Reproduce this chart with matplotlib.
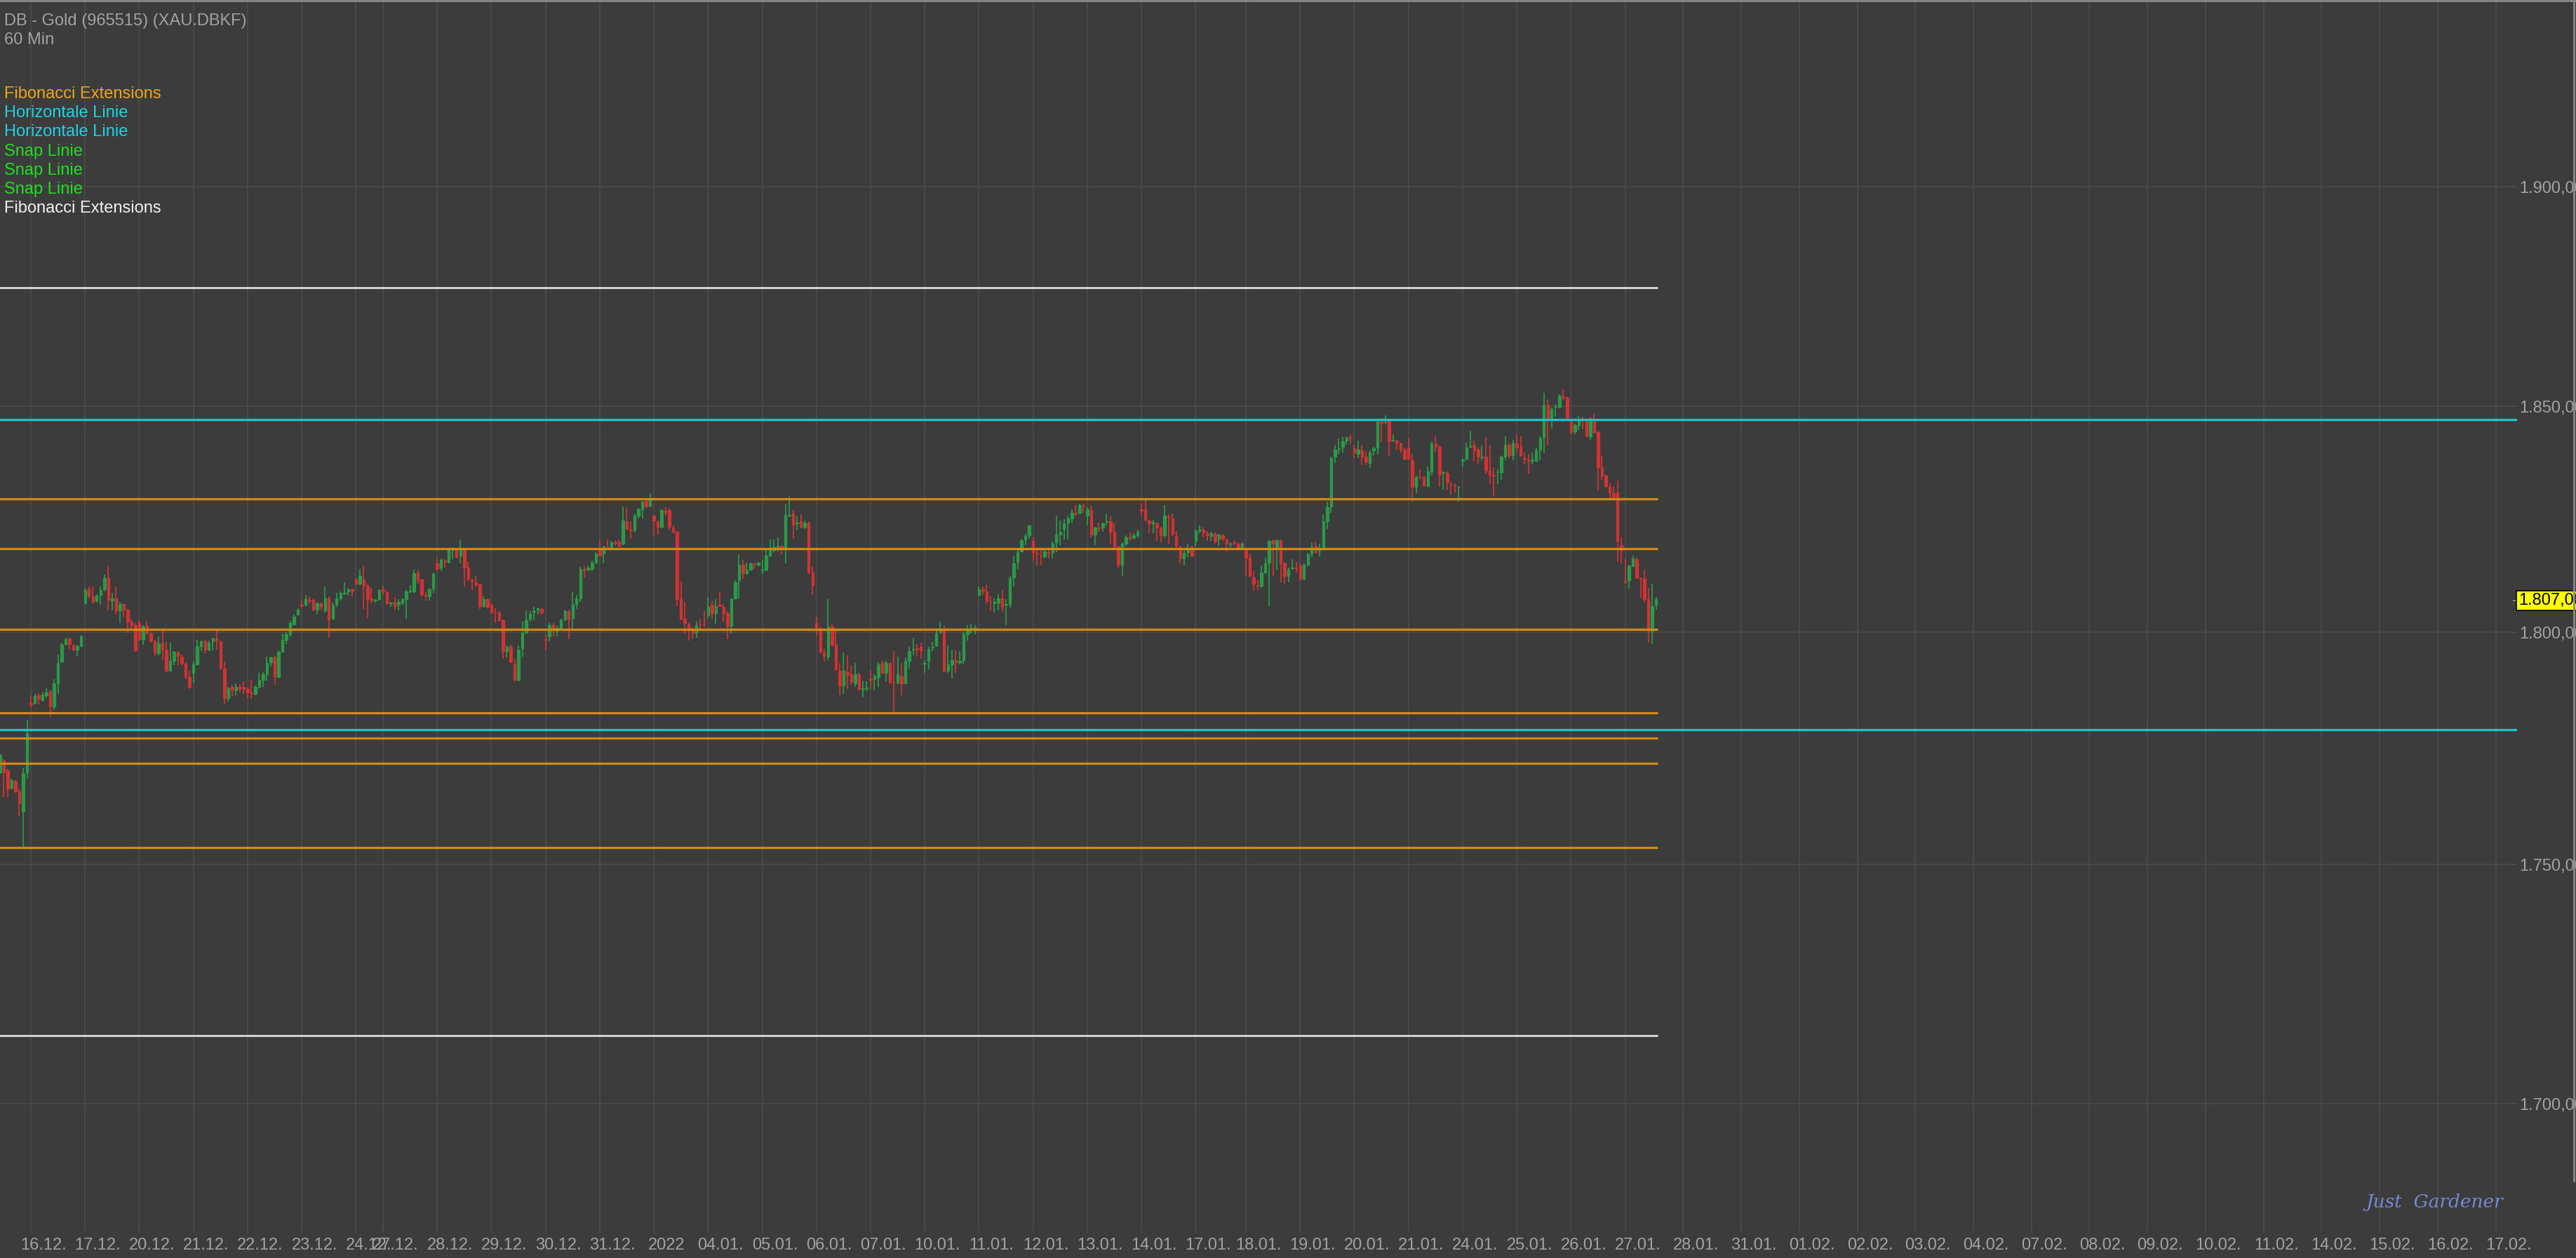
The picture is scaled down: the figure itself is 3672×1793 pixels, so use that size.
import numpy as np
import matplotlib
matplotlib.use('Agg')
import matplotlib.pyplot as plt
from matplotlib.lines import Line2D
from matplotlib.ticker import NullLocator, NullFormatter
from matplotlib.transforms import ScaledTranslation, blended_transform_factory

plt.rcParams['font.family'] = ['Liberation Sans', 'DejaVu Sans']

# hourly candles, first 8 belong to 15.12. (left of the 16.12. line)
first_bar = -8
opens = [
    1769.7, 1772.2, 1770.1, 1766.3, 1767.9, 1765.6, 1761.4, 1769.7,
    1784.6, 1784.6, 1786.4, 1785.3, 1786.4, 1787.2, 1783.9, 1788.9, 1793.6, 1797.5,
    1798.7, 1797.1, 1796.3, 1797.0, 1806.3, 1809.6, 1807.9, 1806.9, 1808.2, 1809.4,
    1811.9, 1807.0, 1807.5, 1804.8, 1806.2, 1805.0, 1802.3, 1801.6, 1802.1, 1798.5,
    1801.4, 1799.8, 1798.0, 1795.4, 1797.6, 1796.3, 1791.7, 1793.8, 1795.6, 1794.7,
    1793.2, 1790.3, 1791.2, 1793.1, 1797.0, 1798.0, 1796.3, 1798.0, 1798.7, 1798.0,
    1792.1, 1785.7, 1788.2, 1787.4, 1788.1, 1788.1, 1787.7, 1787.0, 1786.7, 1788.2,
    1789.6, 1790.9, 1793.5, 1794.5, 1790.3, 1795.7, 1798.4, 1799.6, 1801.8, 1803.9,
    1806.0, 1806.0, 1807.1, 1807.1, 1804.9, 1806.3, 1804.8, 1807.5, 1803.0, 1806.2,
    1807.5, 1808.5, 1808.9, 1809.5, 1811.6, 1810.7, 1811.6, 1810.2, 1807.4, 1806.9,
    1807.2, 1809.5, 1808.8, 1806.3, 1806.7, 1806.0, 1806.5, 1807.2, 1808.9, 1808.9,
    1813.1, 1811.6, 1808.2, 1807.9, 1809.6, 1815.2, 1814.2, 1815.8, 1815.5, 1818.0,
    1818.1, 1816.9, 1818.1, 1814.2, 1811.4, 1811.0, 1810.5, 1805.8, 1807.2, 1806.0,
    1804.4, 1804.4, 1802.7, 1795.9, 1796.8, 1793.1, 1789.6, 1796.6, 1799.9, 1803.0,
    1804.5, 1805.0, 1805.1, 1798.5, 1799.1, 1801.6, 1800.3, 1801.0, 1802.8, 1804.6,
    1803.2, 1806.2, 1807.4, 1813.9, 1813.8, 1813.9, 1815.3, 1818.3, 1817.3, 1818.7,
    1818.7, 1819.7, 1819.9, 1819.4, 1824.4, 1822.5, 1822.5, 1825.6, 1827.0, 1829.0,
    1827.8, 1825.6, 1824.2, 1823.2, 1826.7, 1826.9, 1823.0, 1822.1, 1807.2, 1803.0,
    1801.8, 1800.7, 1799.9, 1801.8, 1801.8, 1803.7, 1806.0, 1804.2, 1806.0, 1805.6,
    1804.2, 1801.4, 1807.5, 1811.4, 1814.8, 1813.0, 1813.8, 1815.2, 1814.8, 1813.6,
    1813.7, 1816.9, 1818.0, 1818.7, 1819.0, 1818.3, 1825.6, 1826.2, 1823.9, 1824.4,
    1823.2, 1824.1, 1813.1, 1802.0, 1800.9, 1795.6, 1794.7, 1801.3, 1797.3, 1791.6,
    1788.4, 1791.4, 1790.9, 1788.9, 1790.9, 1787.7, 1787.9, 1789.9, 1789.8, 1790.3,
    1793.3, 1791.2, 1793.3, 1789.1, 1789.1, 1790.5, 1788.9, 1793.8, 1796.2, 1796.6,
    1796.8, 1793.2, 1793.8, 1796.7, 1797.1, 1800.0, 1800.6, 1791.6, 1793.0, 1794.0,
    1793.5, 1794.0, 1799.6, 1800.9, 1800.9, 1808.2, 1809.5, 1808.9, 1806.7, 1806.4,
    1806.5, 1807.5, 1806.0, 1806.2, 1812.1, 1815.5, 1817.8, 1820.4, 1821.3, 1820.1,
    1817.4, 1816.9, 1816.7, 1817.6, 1817.6, 1819.7, 1821.5, 1822.7, 1824.1, 1825.1,
    1826.3, 1826.3, 1828.0, 1825.6, 1826.9, 1821.5, 1823.0, 1823.0, 1824.2, 1824.4,
    1822.1, 1818.8, 1814.8, 1819.4, 1820.9, 1820.9, 1821.3, 1827.0, 1827.0, 1824.6,
    1824.0, 1823.9, 1822.8, 1821.3, 1825.5, 1825.1, 1821.1, 1818.7, 1816.2, 1817.6,
    1818.7, 1820.1, 1822.4, 1822.5, 1821.8, 1821.1, 1821.6, 1820.6, 1821.3, 1820.4,
    1819.4, 1819.7, 1819.5, 1818.7, 1818.1, 1816.4, 1812.1, 1810.3, 1810.2, 1813.2,
    1815.3, 1820.2, 1818.7, 1820.2, 1815.2, 1812.3, 1814.1, 1814.2, 1814.6, 1811.7,
    1814.8, 1817.3, 1819.0, 1818.0, 1818.3, 1824.4, 1827.7, 1838.7, 1840.5, 1840.9,
    1842.3, 1843.1, 1840.6, 1839.4, 1840.1, 1838.7, 1837.4, 1840.1, 1840.8, 1846.6,
    1846.7, 1846.8, 1842.4, 1842.4, 1841.7, 1840.4, 1840.8, 1838.0, 1832.0, 1834.1,
    1834.3, 1832.2, 1835.5, 1841.7, 1840.9, 1835.1, 1835.2, 1832.7, 1832.4, 1832.0,
    1837.9, 1838.3, 1841.0, 1841.5, 1840.4, 1838.6, 1838.7, 1835.7, 1834.7, 1835.3,
    1835.4, 1838.8, 1841.5, 1839.0, 1841.7, 1841.0, 1838.5, 1838.0, 1837.9, 1837.8,
    1840.4, 1843.1, 1850.3, 1847.2, 1849.9, 1849.9, 1852.2, 1851.9, 1846.6, 1844.4,
    1845.8, 1847.3, 1847.2, 1843.3, 1847.2, 1844.2, 1836.4, 1834.5, 1832.0, 1830.6,
    1830.8, 1819.2, 1811.2, 1811.4, 1814.5, 1816.0, 1811.9, 1811.7, 1807.2, 1800.3,
    1806.0,
]
highs = [
    1773.8, 1772.5, 1770.4, 1768.4, 1768.1, 1766.2, 1770.8, 1781.0,
    1786.4, 1786.7, 1786.8, 1787.0, 1787.9, 1787.4, 1789.8, 1795.2, 1797.8, 1798.8,
    1798.9, 1797.5, 1797.3, 1799.4, 1809.8, 1810.0, 1810.0, 1808.4, 1810.0, 1812.6,
    1814.5, 1808.6, 1810.0, 1806.7, 1806.4, 1805.1, 1802.9, 1802.0, 1802.7, 1801.6,
    1802.5, 1799.9, 1798.4, 1799.2, 1800.3, 1797.9, 1797.8, 1796.0, 1796.0, 1795.2,
    1793.5, 1791.6, 1793.6, 1798.4, 1798.2, 1798.4, 1798.2, 1798.8, 1800.6, 1798.2,
    1793.6, 1788.2, 1788.6, 1788.9, 1788.8, 1789.3, 1788.1, 1789.6, 1788.4, 1791.2,
    1791.4, 1794.7, 1794.7, 1794.8, 1796.1, 1799.8, 1800.0, 1802.5, 1803.9, 1805.2,
    1807.2, 1808.2, 1807.9, 1807.4, 1806.7, 1806.5, 1810.0, 1807.9, 1806.5, 1808.6,
    1808.9, 1810.9, 1809.8, 1809.6, 1811.9, 1813.9, 1814.6, 1810.7, 1809.8, 1807.2,
    1809.5, 1810.2, 1809.1, 1806.7, 1807.7, 1807.2, 1807.5, 1809.3, 1810.3, 1813.7,
    1813.7, 1811.7, 1808.8, 1809.8, 1813.1, 1816.2, 1816.2, 1816.0, 1818.3, 1818.5,
    1818.3, 1820.4, 1818.3, 1815.5, 1811.7, 1812.3, 1810.7, 1807.9, 1807.4, 1806.3,
    1805.3, 1804.6, 1802.8, 1797.1, 1797.3, 1794.2, 1797.1, 1802.3, 1804.8, 1804.6,
    1805.6, 1805.5, 1805.3, 1799.6, 1802.1, 1802.1, 1801.4, 1803.0, 1804.9, 1804.9,
    1808.8, 1808.2, 1814.4, 1814.5, 1814.6, 1815.7, 1817.6, 1820.4, 1819.0, 1820.4,
    1820.1, 1820.2, 1820.4, 1827.7, 1827.6, 1824.4, 1826.2, 1827.4, 1829.0, 1829.1,
    1830.6, 1825.8, 1824.6, 1827.1, 1827.7, 1827.4, 1823.5, 1822.3, 1811.2, 1806.7,
    1802.1, 1801.3, 1802.3, 1803.0, 1804.8, 1807.7, 1807.0, 1807.2, 1808.8, 1806.2,
    1804.6, 1807.5, 1811.4, 1817.1, 1815.9, 1815.3, 1815.3, 1815.3, 1815.5, 1815.9,
    1818.1, 1820.4, 1820.4, 1820.9, 1819.2, 1828.3, 1829.8, 1826.9, 1825.6, 1826.0,
    1824.6, 1824.4, 1814.5, 1803.5, 1801.3, 1796.4, 1807.2, 1801.9, 1800.5, 1793.3,
    1795.6, 1795.0, 1792.9, 1793.3, 1791.2, 1789.5, 1789.3, 1791.7, 1790.9, 1793.5,
    1793.8, 1793.8, 1793.3, 1795.9, 1794.7, 1793.3, 1794.5, 1796.8, 1798.9, 1797.5,
    1797.7, 1794.0, 1796.8, 1797.9, 1800.3, 1802.3, 1801.4, 1797.1, 1796.3, 1796.1,
    1795.9, 1800.0, 1801.6, 1801.9, 1801.6, 1810.0, 1810.0, 1810.5, 1807.9, 1807.5,
    1808.4, 1809.3, 1807.2, 1812.3, 1816.9, 1818.1, 1820.6, 1821.6, 1823.7, 1820.8,
    1818.3, 1818.0, 1818.3, 1818.7, 1819.9, 1825.6, 1824.6, 1824.9, 1825.6, 1827.1,
    1828.0, 1828.3, 1828.3, 1827.6, 1827.8, 1823.2, 1824.1, 1824.1, 1826.2, 1825.6,
    1823.9, 1819.0, 1819.7, 1821.3, 1822.0, 1821.8, 1822.5, 1828.3, 1829.4, 1824.8,
    1824.8, 1824.1, 1823.2, 1828.0, 1826.0, 1826.2, 1822.3, 1819.0, 1818.0, 1819.4,
    1819.0, 1822.7, 1823.7, 1823.2, 1822.3, 1822.1, 1822.0, 1821.7, 1821.6, 1820.6,
    1819.7, 1820.2, 1819.7, 1819.7, 1818.3, 1817.3, 1813.5, 1811.4, 1814.6, 1816.4,
    1820.2, 1820.4, 1820.4, 1820.4, 1815.5, 1814.2, 1816.0, 1815.5, 1815.2, 1815.2,
    1817.4, 1819.7, 1819.9, 1819.4, 1826.0, 1828.7, 1838.8, 1841.5, 1842.9, 1843.1,
    1843.3, 1843.7, 1841.5, 1842.3, 1841.5, 1839.9, 1840.1, 1840.9, 1847.2, 1847.0,
    1848.0, 1847.0, 1843.8, 1842.6, 1841.9, 1840.8, 1842.9, 1839.4, 1834.5, 1835.9,
    1834.5, 1836.6, 1842.2, 1843.3, 1841.3, 1835.5, 1835.5, 1833.1, 1832.9, 1832.2,
    1838.5, 1841.9, 1844.5, 1842.4, 1840.8, 1841.3, 1843.1, 1841.3, 1836.4, 1835.9,
    1839.0, 1843.3, 1841.9, 1842.6, 1843.7, 1843.3, 1839.7, 1839.4, 1839.7, 1840.8,
    1843.3, 1853.1, 1851.5, 1849.8, 1850.6, 1852.7, 1853.8, 1852.2, 1847.2, 1846.1,
    1847.9, 1847.7, 1847.3, 1847.5, 1848.4, 1844.5, 1839.0, 1834.8, 1832.9, 1832.2,
    1833.4, 1820.9, 1816.0, 1814.8, 1816.9, 1816.6, 1812.1, 1813.8, 1809.8, 1810.7,
    1807.7,
]
lows = [
    1769.4, 1764.4, 1764.4, 1766.0, 1765.3, 1760.4, 1753.6, 1768.4,
    1783.6, 1784.3, 1784.3, 1785.0, 1785.7, 1781.8, 1783.1, 1786.7, 1793.3, 1797.1,
    1796.4, 1795.9, 1794.9, 1796.8, 1806.2, 1807.5, 1806.3, 1806.5, 1806.0, 1808.9,
    1804.8, 1804.8, 1804.1, 1802.1, 1803.5, 1799.9, 1800.7, 1795.7, 1798.2, 1797.3,
    1799.4, 1797.8, 1794.7, 1795.0, 1794.0, 1791.4, 1791.6, 1792.8, 1792.9, 1792.9,
    1789.8, 1787.7, 1789.1, 1792.8, 1795.9, 1795.4, 1795.9, 1796.1, 1796.3, 1791.9,
    1784.4, 1785.0, 1786.0, 1786.4, 1787.0, 1786.7, 1785.7, 1785.5, 1786.4, 1787.9,
    1788.1, 1789.5, 1792.6, 1788.6, 1790.2, 1795.6, 1797.5, 1799.2, 1801.6, 1803.7,
    1805.1, 1805.8, 1806.3, 1804.6, 1803.9, 1804.8, 1804.4, 1798.9, 1802.8, 1805.6,
    1807.0, 1808.2, 1808.1, 1807.9, 1810.3, 1810.3, 1805.1, 1803.2, 1806.3, 1806.5,
    1807.0, 1808.2, 1806.0, 1805.6, 1804.9, 1804.8, 1806.0, 1803.0, 1808.6, 1808.6,
    1810.7, 1807.7, 1806.9, 1807.0, 1808.6, 1813.7, 1813.5, 1814.2, 1815.2, 1816.0,
    1816.2, 1815.1, 1810.0, 1811.2, 1809.3, 1810.0, 1805.1, 1805.5, 1805.3, 1804.1,
    1802.1, 1802.3, 1794.2, 1794.5, 1793.3, 1789.3, 1789.3, 1794.7, 1799.8, 1802.3,
    1802.7, 1803.9, 1803.9, 1796.1, 1798.0, 1799.2, 1799.1, 1800.7, 1802.5, 1798.5,
    1800.6, 1805.1, 1806.7, 1812.1, 1813.5, 1813.5, 1815.2, 1816.7, 1815.2, 1818.3,
    1818.1, 1819.0, 1818.7, 1819.2, 1822.5, 1820.6, 1822.0, 1825.1, 1825.1, 1827.4,
    1827.6, 1821.3, 1821.5, 1822.8, 1825.6, 1822.5, 1821.8, 1805.8, 1802.7, 1799.8,
    1798.2, 1798.7, 1798.9, 1800.9, 1801.2, 1803.2, 1803.0, 1801.9, 1805.6, 1802.3,
    1798.5, 1799.8, 1807.2, 1807.5, 1811.7, 1812.6, 1813.7, 1813.9, 1814.5, 1812.8,
    1813.5, 1816.5, 1817.6, 1817.8, 1817.1, 1815.1, 1825.3, 1820.6, 1822.5, 1822.8,
    1822.7, 1812.8, 1808.2, 1799.3, 1795.4, 1793.6, 1794.0, 1797.0, 1791.7, 1786.4,
    1786.7, 1787.7, 1788.6, 1788.2, 1787.4, 1786.0, 1787.3, 1787.7, 1787.4, 1788.1,
    1790.9, 1789.3, 1788.9, 1782.2, 1788.8, 1786.4, 1788.8, 1792.1, 1795.0, 1794.7,
    1794.2, 1791.2, 1791.9, 1795.9, 1796.8, 1799.8, 1791.4, 1791.2, 1790.0, 1791.2,
    1793.0, 1793.1, 1798.2, 1799.8, 1799.6, 1807.9, 1808.2, 1806.2, 1804.6, 1804.4,
    1804.8, 1804.4, 1801.6, 1805.5, 1810.0, 1813.9, 1817.6, 1819.2, 1820.6, 1815.7,
    1814.6, 1814.8, 1816.2, 1816.2, 1816.2, 1817.6, 1819.2, 1820.4, 1820.4, 1824.1,
    1825.6, 1826.0, 1826.3, 1823.5, 1820.8, 1819.2, 1822.1, 1822.1, 1823.5, 1819.5,
    1818.1, 1814.1, 1812.3, 1819.0, 1820.1, 1820.4, 1820.8, 1825.6, 1824.4, 1821.8,
    1821.8, 1820.1, 1819.7, 1820.9, 1819.5, 1821.1, 1818.3, 1815.2, 1814.6, 1816.6,
    1816.6, 1818.8, 1821.8, 1820.8, 1820.1, 1820.1, 1819.4, 1819.0, 1820.1, 1817.8,
    1818.7, 1819.2, 1818.5, 1818.3, 1812.4, 1812.3, 1809.1, 1809.3, 1809.8, 1812.8,
    1805.8, 1812.3, 1813.7, 1810.9, 1810.7, 1810.9, 1813.7, 1813.1, 1811.2, 1811.4,
    1814.5, 1816.6, 1817.3, 1816.7, 1818.0, 1822.7, 1826.3, 1837.4, 1839.4, 1839.7,
    1841.5, 1841.6, 1838.5, 1838.5, 1837.1, 1836.9, 1836.2, 1839.0, 1839.2, 1842.0,
    1845.9, 1838.8, 1842.0, 1840.4, 1839.5, 1838.0, 1838.1, 1828.7, 1830.6, 1833.8,
    1832.2, 1832.0, 1834.5, 1839.9, 1832.0, 1831.5, 1831.5, 1830.3, 1830.8, 1828.7,
    1836.6, 1838.0, 1840.8, 1837.6, 1837.1, 1838.0, 1835.0, 1832.7, 1829.8, 1832.7,
    1833.6, 1838.0, 1838.5, 1838.0, 1839.7, 1838.7, 1837.1, 1835.0, 1837.1, 1837.6,
    1838.0, 1839.5, 1841.3, 1845.1, 1847.7, 1849.6, 1851.5, 1847.2, 1843.8, 1843.8,
    1844.7, 1845.1, 1843.1, 1842.6, 1844.0, 1831.3, 1833.6, 1831.9, 1829.1, 1829.1,
    1815.5, 1815.2, 1810.7, 1809.6, 1814.4, 1811.7, 1807.5, 1806.7, 1797.8, 1797.5,
    1804.9,
]
closes = [
    1773.5, 1769.7, 1766.2, 1768.1, 1765.6, 1763.1, 1769.5, 1778.1,
    1784.4, 1786.1, 1785.5, 1786.5, 1787.0, 1783.9, 1788.9, 1793.3, 1797.3, 1798.5,
    1797.5, 1796.3, 1797.0, 1799.2, 1809.3, 1808.0, 1806.7, 1808.1, 1809.3, 1811.9,
    1807.1, 1807.4, 1804.6, 1806.2, 1804.9, 1802.3, 1801.6, 1796.1, 1798.5, 1801.3,
    1799.9, 1798.2, 1795.6, 1797.6, 1796.3, 1791.7, 1793.8, 1795.7, 1794.9, 1793.3,
    1790.3, 1788.2, 1793.1, 1797.0, 1798.0, 1796.3, 1797.8, 1798.7, 1798.2, 1792.1,
    1785.7, 1787.9, 1787.5, 1788.2, 1787.9, 1787.7, 1786.9, 1786.8, 1788.2, 1789.6,
    1790.9, 1793.3, 1794.5, 1790.5, 1795.7, 1798.4, 1799.6, 1802.0, 1803.5, 1804.9,
    1805.9, 1807.2, 1806.9, 1804.9, 1806.3, 1805.6, 1807.4, 1802.8, 1806.0, 1807.5,
    1808.6, 1808.7, 1809.5, 1809.1, 1810.7, 1812.4, 1810.2, 1807.2, 1807.0, 1807.1,
    1809.3, 1809.1, 1806.3, 1806.5, 1805.8, 1806.7, 1807.2, 1808.9, 1809.1, 1813.0,
    1811.6, 1808.4, 1808.1, 1809.5, 1812.8, 1813.9, 1815.9, 1815.5, 1818.1, 1818.1,
    1816.7, 1818.1, 1814.2, 1811.7, 1811.2, 1810.3, 1805.8, 1807.2, 1805.6, 1804.4,
    1804.3, 1802.7, 1795.9, 1796.8, 1793.6, 1789.6, 1796.3, 1799.9, 1802.7, 1804.1,
    1804.6, 1805.2, 1804.4, 1798.3, 1801.6, 1800.6, 1801.0, 1802.7, 1804.6, 1803.0,
    1806.2, 1807.4, 1813.9, 1813.8, 1814.2, 1815.3, 1817.3, 1816.9, 1818.8, 1818.5,
    1819.7, 1819.6, 1819.0, 1824.6, 1822.7, 1822.4, 1825.6, 1827.0, 1828.7, 1827.7,
    1829.2, 1824.6, 1823.2, 1826.9, 1826.5, 1823.2, 1822.1, 1807.2, 1803.0, 1802.1,
    1800.7, 1799.9, 1801.6, 1801.7, 1801.7, 1805.6, 1804.2, 1805.8, 1805.8, 1804.2,
    1801.4, 1807.4, 1810.9, 1814.8, 1813.0, 1813.7, 1815.2, 1815.0, 1815.3, 1813.7,
    1816.9, 1818.0, 1818.7, 1819.0, 1818.3, 1825.8, 1825.8, 1823.7, 1824.1, 1823.2,
    1824.1, 1813.1, 1810.3, 1801.2, 1795.7, 1794.9, 1801.3, 1797.3, 1791.9, 1788.4,
    1791.6, 1790.7, 1789.3, 1790.9, 1787.7, 1787.8, 1788.0, 1789.7, 1790.5, 1793.0,
    1791.2, 1793.3, 1789.1, 1789.0, 1790.9, 1788.9, 1793.8, 1795.9, 1796.4, 1796.4,
    1796.1, 1793.4, 1796.4, 1796.8, 1799.8, 1800.6, 1791.7, 1793.0, 1794.0, 1793.5,
    1793.8, 1799.6, 1800.6, 1801.0, 1801.0, 1809.5, 1809.1, 1807.0, 1806.6, 1806.6,
    1807.5, 1805.6, 1806.2, 1811.9, 1815.2, 1817.6, 1820.2, 1821.1, 1823.5, 1817.6,
    1817.3, 1816.8, 1817.8, 1817.5, 1819.4, 1821.5, 1822.1, 1823.9, 1825.1, 1826.3,
    1826.1, 1828.0, 1827.8, 1827.0, 1821.5, 1823.0, 1822.8, 1823.9, 1824.4, 1822.1,
    1818.8, 1814.8, 1819.4, 1820.9, 1820.7, 1821.3, 1822.1, 1826.8, 1824.8, 1823.9,
    1824.2, 1823.0, 1821.3, 1825.6, 1825.3, 1821.6, 1819.0, 1816.2, 1817.4, 1818.5,
    1816.9, 1822.3, 1822.6, 1822.0, 1821.3, 1821.8, 1820.1, 1821.5, 1820.6, 1819.4,
    1819.5, 1819.6, 1818.7, 1819.5, 1816.4, 1812.4, 1810.7, 1810.2, 1813.2, 1815.2,
    1820.1, 1819.4, 1820.2, 1815.2, 1812.4, 1813.8, 1814.2, 1814.0, 1811.7, 1814.8,
    1817.1, 1818.7, 1817.6, 1818.2, 1824.4, 1827.6, 1838.5, 1840.4, 1840.6, 1842.2,
    1843.0, 1843.0, 1839.7, 1840.4, 1838.8, 1837.6, 1839.7, 1840.6, 1846.6, 1846.3,
    1846.9, 1842.2, 1842.5, 1841.9, 1840.4, 1838.3, 1838.3, 1832.0, 1834.3, 1834.0,
    1832.4, 1835.5, 1841.7, 1840.9, 1834.8, 1835.3, 1833.1, 1832.6, 1832.3, 1832.1,
    1838.1, 1840.8, 1841.1, 1840.2, 1838.7, 1838.8, 1835.7, 1834.7, 1834.5, 1835.4,
    1838.7, 1841.5, 1839.0, 1841.7, 1841.0, 1839.0, 1838.3, 1837.9, 1838.1, 1840.1,
    1843.0, 1850.3, 1847.3, 1849.4, 1850.0, 1852.4, 1852.0, 1847.5, 1844.2, 1845.8,
    1847.0, 1847.2, 1843.3, 1847.2, 1844.2, 1836.4, 1834.5, 1832.2, 1830.8, 1829.8,
    1820.1, 1818.1, 1811.0, 1814.6, 1816.2, 1812.1, 1811.7, 1807.2, 1800.3, 1805.8,
    1807.2,
]

# trading days on the time axis and how many hourly slots each one takes
day_labels = ['16.12.', '17.12.', '20.12.', '21.12.', '22.12.', '23.12.', '24.12.',
              '27.12.', '28.12.', '29.12.', '30.12.', '31.12.', '2022', '04.01.',
              '05.01.', '06.01.', '07.01.', '10.01.', '11.01.', '12.01.', '13.01.',
              '14.01.', '17.01.', '18.01.', '19.01.', '20.01.', '21.01.', '24.01.',
              '25.01.', '26.01.', '27.01.', '28.01.', '31.01.', '01.02.', '02.02.',
              '03.02.', '04.02.', '07.02.', '08.02.', '09.02.', '10.02.', '11.02.',
              '14.02.', '15.02.', '16.02.', '17.02.']
day_slots = [14, 14, 14, 14, 14, 14, 7,
             14, 14, 14, 14, 14, 14, 14,
             14, 14, 14, 14, 14, 14, 14,
             14, 13, 14, 14, 14, 14, 14,
             14, 14, 15, 15, 15, 15, 15,
             15, 15, 15, 15, 15, 15, 15,
             15, 15, 15, 15]

price_ticks = [1700, 1750, 1800, 1850, 1900]
fib_orange = [1829.4, 1818.4, 1800.6, 1782.5, 1777.1, 1771.7, 1753.6]
fib_white = [1876.9, 1714.1]
horizontal_lines = [1847.0, 1778.9]
last_price = 1807.0

header = ['DB - Gold (965515) (XAU.DBKF)', '60 Min']
legend_items = [('Fibonacci Extensions', '#eda51c'),
                ('Horizontale Linie', '#1ed2e4'),
                ('Horizontale Linie', '#1ed2e4'),
                ('Snap Linie', '#1fe01f'),
                ('Snap Linie', '#1fe01f'),
                ('Snap Linie', '#1fe01f'),
                ('Fibonacci Extensions', '#f2f2f2')]

BG = '#3c3c3c'
GRID = '#4a4a4a'
TXT = '#a2a2a2'
UP = '#2a9a48'
DOWN = '#cf3434'
ORANGE = '#d38a14'
CYAN = '#1cc3cb'
WHITE = '#dcdcdc'

W, H = 3672, 1793
fig = plt.figure(figsize=(W / 100, H / 100), dpi=100, facecolor=BG)
ax = fig.add_axes([0, 36 / H, 3588 / W, 1757 / H], facecolor=BG)
ax.set_yscale('log')
ax.set_xlim(-7.98, 642.5)
ax.set_ylim(1673.6, 1943.5)
for s in ax.spines.values():
    s.set_visible(False)

# price grid + labels on the right
ax.set_yticks(price_ticks)
ax.set_yticklabels([f'{v:,.2f}'.replace(',', 'X').replace('.', ',').replace('X', '.')
                    for v in price_ticks])
ax.yaxis.set_minor_locator(NullLocator())
ax.yaxis.set_minor_formatter(NullFormatter())
ax.yaxis.tick_right()
ax.tick_params(axis='y', length=0, pad=2, labelsize=17, labelcolor=TXT)

# day grid + labels
day_pos = np.concatenate([[0], np.cumsum(day_slots)[:-1]])
ax.set_xticks(day_pos)
ax.set_xticklabels(day_labels)
ax.tick_params(axis='x', length=0, pad=5, labelsize=17, labelcolor=TXT)
shift = ScaledTranslation(0.18, 0, fig.dpi_scale_trans)
for lbl in ax.get_xticklabels():
    lbl.set_transform(lbl.get_transform() + shift)

ax.grid(True, color=GRID, lw=1.4)
ax.set_axisbelow(True)

# candles
o = np.array(opens)
hi = np.array(highs)
lo = np.array(lows)
c = np.array(closes)
x = np.arange(len(o)) + first_bar
col = np.where(c >= o, UP, DOWN)
ax.vlines(x, lo, hi, colors=col, lw=1.3, zorder=3)
b0 = np.minimum(o, c)
b1 = np.maximum(o, c)
ax.bar(x, b1 - b0, bottom=b0, width=0.62, color=col, edgecolor=col, lw=0.9, zorder=4)

# drawing tools
ax.hlines(fib_orange, first_bar - 1, x[-1] + 0.5, colors=ORANGE, lw=2.3, zorder=5)
ax.hlines(fib_white, first_bar - 1, x[-1] + 0.5, colors=WHITE, lw=2.0, zorder=5)
for v in horizontal_lines:
    ax.axhline(v, color=CYAN, lw=2.4, zorder=5)

# last price marker
blend = blended_transform_factory(ax.transAxes, ax.transData)
ax.plot([1 - 5 / 3588, 1], [last_price, last_price], transform=blend,
        color=TXT, lw=1.2, clip_on=False)
lp = f'{last_price:,.2f}'.replace(',', 'X').replace('.', ',').replace('X', '.')
ax.text(1.0005, last_price, lp, transform=blend, ha='left', va='center',
        fontsize=17, color='black', clip_on=False, zorder=10,
        bbox=dict(boxstyle='square,pad=0.12', fc='#ffff00', ec='black', lw=1.2))

# header and tool list
for i, t in enumerate(header):
    fig.text(6 / W, 1 - (30 + 27 * i) / H, t, color=TXT, fontsize=17, va='center')
for i, (t, cc) in enumerate(legend_items):
    fig.text(6 / W, 1 - (134 + 27.2 * i) / H, t, color=cc, fontsize=17, va='center')

fig.text(3372 / W, 1 - 1714 / H, 'Just  Gardener', color='#7688d4', fontsize=19,
         style='italic', family='DejaVu Serif', va='center')

# frame bits
fig.add_artist(Line2D([0, 1], [1 - 1 / H, 1 - 1 / H], transform=fig.transFigure,
                      color='#8a8a8a', lw=2))
fig.add_artist(Line2D([3669 / W, 3669 / W], [1 - 1683 / H, 1], transform=fig.transFigure,
                      color='#8a8a8a', lw=2))

fig.savefig('out.png', dpi=100, facecolor=BG)
